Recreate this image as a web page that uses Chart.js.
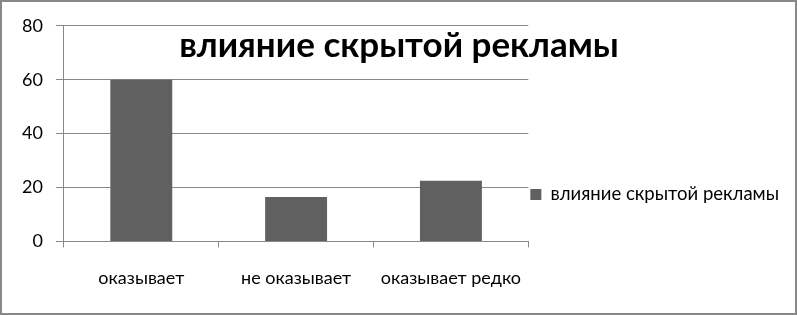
<!DOCTYPE html>
<html>
<head>
<meta charset="utf-8">
<script src="https://cdn.jsdelivr.net/npm/chart.js@4"></script>
<style>
  html, body { margin: 0; padding: 0; background: #fff; }
  #wrap { width: 797px; height: 315px; box-sizing: border-box; border: 2px solid #888; position: relative; }
</style>
</head>
<body>
<div id="wrap"><canvas id="myChart"></canvas></div>
<script>
const categories = ['оказывает', 'не оказывает', 'оказывает редко'];
const seriesName = 'влияние скрытой рекламы';
const values = [60, 16.5, 22.5];
const yTicks = [0, 20, 40, 60, 80];

const barColor = '#606060';
const gridColor = '#888888';
const font = 'Lato';

// title sits inside the plot area, over the bars
const innerTitle = {
    id: 'innerTitle',
    afterDraw(chart) {
        const c = chart.ctx;
        c.save();
        c.font = 'bold 35px ' + font;
        c.fillStyle = '#000';
        c.textAlign = 'center';
        c.textBaseline = 'alphabetic';
        c.fillText(seriesName, 397, 55);
        c.restore();
    }
};

function draw() {
    const ctx = document.getElementById('myChart').getContext('2d');
    new Chart(ctx, {
        type: 'bar',
        data: {
            labels: categories,
            datasets: [{
                label: seriesName,
                data: values,
                backgroundColor: barColor,
                categoryPercentage: 1,
                barPercentage: 0.4
            }]
        },
        options: {
            responsive: true,
            maintainAspectRatio: false,
            animation: false,
            layout: {
                padding: { left: 7, top: 22, right: 6, bottom: 4 }
            },
            scales: {
                y: {
                    min: 0,
                    max: 80,
                    afterBuildTicks(axis) {
                        axis.ticks = yTicks.map(v => ({ value: v }));
                    },
                    grid: {
                        color: gridColor,
                        tickLength: 8
                    },
                    border: { color: gridColor },
                    ticks: {
                        color: '#000',
                        padding: 13,
                        font: { family: font, size: 18 }
                    }
                },
                x: {
                    grid: {
                        drawOnChartArea: false,
                        color: gridColor,
                        tickLength: 6
                    },
                    border: { color: gridColor },
                    ticks: {
                        color: '#000',
                        padding: 20,
                        maxRotation: 0,
                        font: { family: font, size: 18 }
                    }
                }
            },
            plugins: {
                legend: {
                    position: 'right',
                    maxWidth: 320,
                    // empty title only pushes the single entry down
                    title: {
                        display: true,
                        text: ' ',
                        padding: { top: 44, bottom: 0 },
                        font: { family: font, size: 10 }
                    },
                    labels: {
                        boxWidth: 11,
                        boxHeight: 11,
                        padding: 2,
                        color: '#000',
                        font: { family: font, size: 18.5 }
                    }
                },
                tooltip: { enabled: false }
            }
        },
        plugins: [innerTitle]
    });
}

Promise.all([
    document.fonts.load('18px Lato'),
    document.fonts.load('18.5px Lato'),
    document.fonts.load('bold 35px Lato')
]).then(draw, draw);
</script>
</body>
</html>
